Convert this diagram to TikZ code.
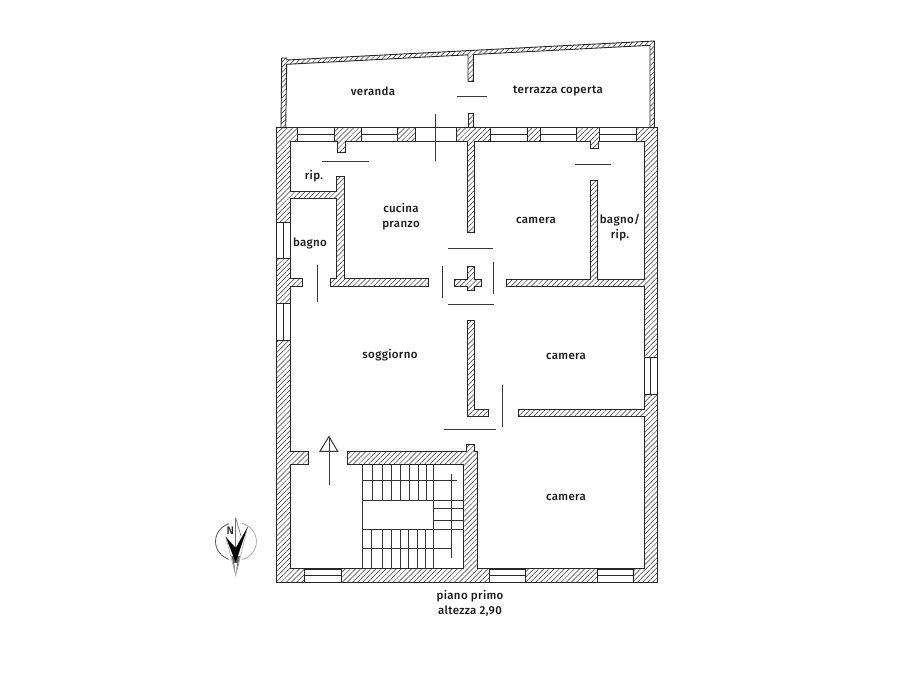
\documentclass[tikz,border=0pt]{standalone}
\usepackage{fontspec}
\setmainfont{Fira Sans Medium}
\usetikzlibrary{patterns.meta}
\definecolor{wallink}{gray}{0.15}
\tikzset{
  wall/.style={draw=wallink,line width=0.9pt,even odd rule,line join=miter,
    pattern={Lines[angle=45,distance=3.6pt,line width=0.5pt]},pattern color=black!80},
  win/.style={draw=wallink,line width=0.8pt,fill=white},
  winbar/.style={draw=wallink,line width=0.8pt},
  swing/.style={draw=black!78,line width=1pt},
  tread/.style={draw=black!80,line width=0.9pt},
  room/.style={font=\fontsize{11.5}{14.5}\selectfont\addfontfeatures{LetterSpace=3},text=black!90,align=center,inner sep=0pt}
}
\begin{document}
\begin{tikzpicture}[x=1pt,y=-1pt]
\useasboundingbox[fill=white] (0,0) rectangle (900,675);
% main walls: outer outline with one hole for the rooms, plus free-standing pieces
\path[wall] (276.5,127.7) -- (657.3,127.7) -- (657.3,582.7) -- (276.5,582.7) -- cycle
 (290,141) -- (337,141) -- (337,152) -- (345,152) -- (345,141) -- (467.3,141) -- (467.3,232.7) -- (474.3,232.7) -- (474.3,141)
 -- (590,141) -- (590,148) -- (598,148) -- (598,141) -- (644,141) -- (644,279) -- (597.7,279) -- (597.7,180.7) -- (590.3,180.7) -- (590.3,279)
 -- (506,279) -- (506,286) -- (644,286) -- (644,409.3) -- (518.7,409.3) -- (518.7,416.7) -- (644,416.7) -- (644,568.7)
 -- (477.3,568.7) -- (477.3,451) -- (474.3,451) -- (474.3,444.7) -- (466.7,444.7) -- (466.7,451) -- (347.3,451) -- (347.3,464.7)
 -- (463.7,464.7) -- (463.7,568.7) -- (290,568.7) -- (290,464.7) -- (308.7,464.7) -- (308.7,451) -- (290,451) -- (290,286)
 -- (302.7,286) -- (302.7,278.7) -- (290,278.7) -- (290,198.7) -- (336.7,198.7) -- (336.7,278.7) -- (330.3,278.7) -- (330.3,286)
 -- (428,286) -- (428,278.7) -- (344,278.7) -- (344,176) -- (336.7,176) -- (336.7,191.7) -- (290,191.7) -- cycle;
% veranda walls
\path[wall] (281.7,58) -- (286.7,58) -- (286.7,60) -- (654.4,41) -- (654.4,127.7) -- (650,127.7) -- (650,45.3) -- (473.3,54.5)
 -- (473.3,81.3) -- (468,81.3) -- (468,54.8) -- (286.7,64.3) -- (285.7,127.7) -- (281,127.7) -- cycle;
\path[wall] (468,113.3) rectangle (473.3,127.7);
% central L wall and cross
\path[wall] (467,320.7) -- (474.3,320.7) -- (474.3,409.3) -- (488.3,409.3) -- (488.3,416.7) -- (467,416.7) -- cycle;
\path[wall] (467,266) -- (474.3,266) -- (474.3,279) -- (481,279) -- (481,286) -- (474.3,286) -- (474.3,290.7) -- (467,290.7)
 -- (467,286) -- (454.3,286) -- (454.3,279) -- (467,279) -- cycle;
% windows, top
\foreach \xa/\xb in {297.3/334,361/397.7,490.7/527.3,540.3/576.3,599.7/636}{
  \path[win] (\xa,127.7) rectangle (\xb,141);
  \path[winbar] (\xa,134.4) -- (\xb,134.4);
}
\path[win] (415.6,127.7) rectangle (456.3,141);
% windows, bottom
\foreach \xa/\xb in {304.7/341,489/525.3,597.3/633.3}{
  \path[win] (\xa,569) rectangle (\xb,582.7);
  \path[winbar] (\xa,575.8) -- (\xb,575.8);
}
% windows, left
\foreach \ya/\yb in {222.3/258.3,303/340}{
  \path[win] (276.5,\ya) rectangle (290,\yb);
  \path[winbar] (282.9,\ya) -- (282.9,\yb);
}
% window, right
\path[win] (644,357.7) rectangle (657.3,394.3);
\path[winbar] (650.7,357.7) -- (650.7,394.3);
% door swing lines
\foreach \p/\q in {{457,96.7}/{486.7,96.7},{435.7,114}/{435.7,160.7},{321.7,161.3}/{369.3,161.3},{575.3,164.7}/{610.7,164.7},
  {317.7,265}/{317.7,302.3},{442.3,265.7}/{442.3,297.7},{447.7,248.7}/{493.3,248.7},{448.3,304.3}/{494,304.3},
  {493,262.3}/{493,294},{502.3,384.7}/{502.3,427},{444,429.3}/{496,429.3}}{
  \draw[swing] (\p) -- (\q);
}
% stairs
\foreach \x in {372,382.7,391,400.3,409.3,418.3,426}{ \draw[tread] (\x,464.7) -- (\x,500); }
\foreach \x in {371.7,382.7,391.7,400.3,408.7,417,425.7}{ \draw[tread] (\x,529) -- (\x,568.7); }
\draw[tread] (362.7,464.7) -- (362.7,568.7);
\draw[tread] (433.3,464.7) -- (433.3,568.7);
\draw[tread] (362.7,500) -- (463.7,500);
\draw[tread] (362.7,529) -- (463.7,529);
\draw[tread] (433.3,508.3) -- (463.7,508.3);
\draw[tread] (433.3,520) -- (463.7,520);
\draw[tread,line width=1pt] (362.7,480) -- (457,480);
\draw[tread,line width=1pt] (451.3,474) -- (451.3,557.7);
\draw[tread,line width=1pt] (362.7,548) -- (451.3,548);
% entrance arrow
\draw[swing] (329,485) -- (329,436.5);
\draw[swing,line join=miter] (320,451.3) -- (337.7,451.3) -- (329,436.5) -- cycle;
% compass
\begin{scope}
  \clip (210,515) rectangle (229,566);
  \draw[black!65,line width=0.8pt] (236,541.5) ellipse[x radius=20.5pt,y radius=19pt];
\end{scope}
\begin{scope}
  \clip (242,515) rectangle (262,566);
  \draw[black!35,line width=0.7pt] (236,541.5) ellipse[x radius=20.5pt,y radius=19pt];
\end{scope}
\draw[black!55,line width=0.6pt] (235.7,518) -- (235.7,548);
\draw[black!35,line width=0.6pt] (225.7,536.7) -- (235.7,575.7) -- (247.7,526.7);
\draw[black!60,line width=0.6pt] (235.7,518) -- (241,536);
\fill[black!60] (235.7,575) -- (231.5,556) -- (240,556) -- cycle;
\fill[white] (235.7,575) -- (234.2,563) -- (237.2,563) -- cycle;
\fill[black] (225.7,536.7) -- (235.7,548) -- (247.7,526.7) -- (235.7,562.5) -- cycle;
\node[font=\fontsize{11}{12}\selectfont,inner sep=0pt,text=black!85] (north) at (230.3,530.5) {N};
% labels
\node[room] (veranda) at (373,91) {veranda};
\node[room] (terrazza) at (558,91) {terrazza coperta};
\node[room] (rip) at (314,176) {rip.};
\node[room] (cucina) at (401,216.5) {cucina\\pranzo};
\node[room] (camera1) at (536,220) {camera};
\node[room] (bagnorip) at (620,227.5) {bagno/\\rip.};
\node[room] (bagno) at (310,243) {bagno};
\node[room] (soggiorno) at (390,355.5) {soggiorno};
\node[room] (camera2) at (566,356) {camera};
\node[room] (camera3) at (566,497) {camera};
\node[room] (piano) at (470,603.5) {piano primo\\altezza 2,90};
\end{tikzpicture}
\end{document}
